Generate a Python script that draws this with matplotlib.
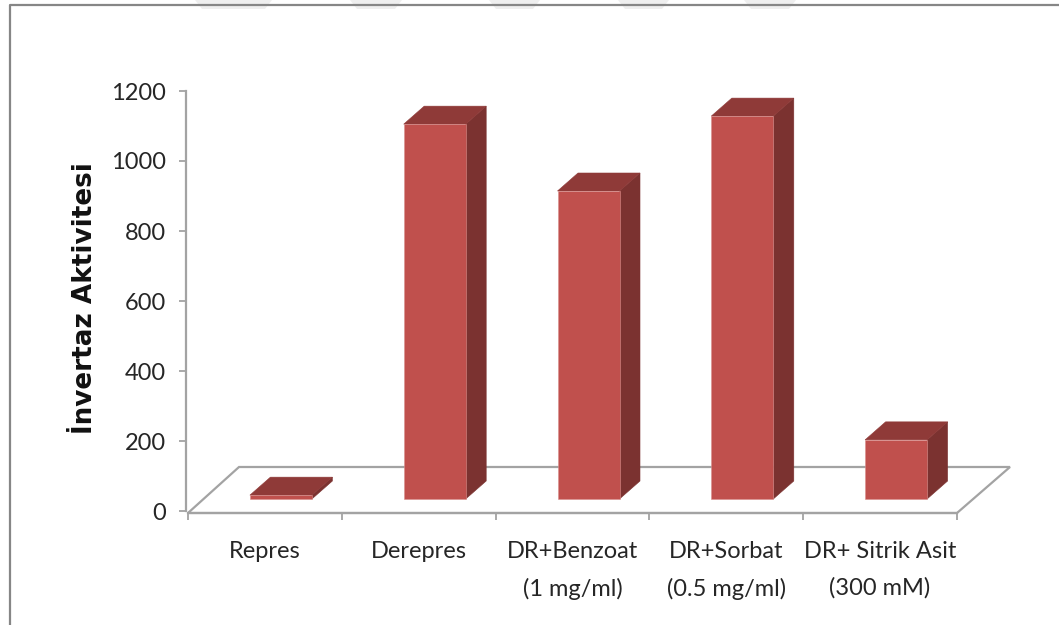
import matplotlib
matplotlib.use("Agg")
import matplotlib.pyplot as plt
from matplotlib.lines import Line2D
from matplotlib.patches import Polygon

plt.rcParams['font.family'] = ['Lato', 'DejaVu Sans']

categories = ["Repres", "Derepres", "DR+Benzoat\n(1 mg/ml)", "DR+Sorbat\n(0.5 mg/ml)", "DR+ Sitrik Asit\n(300 mM)"]
activity = [11, 1071, 880, 1094, 169]
y_ticks = [0, 200, 400, 600, 800, 1000, 1200]

W, H = 1059, 625
GREY = "#a3a3a3"
TEXT = "#262626"

fig = plt.figure(figsize=(W / 100, H / 100), dpi=100)

# pale shapes showing behind the top edge of the frame
for left, right in [(195, 272), (350, 402), (489, 540), (618, 669), (744, 796)]:
    shape = [(left / W, 1), (right / W, 1), ((right - 7) / W, 1 - 9 / H), ((left + 7) / W, 1 - 9 / H)]
    fig.add_artist(Polygon(shape, closed=True, fc="#efefef", ec="none", transform=fig.transFigure))

ax = fig.add_axes([188 / W, 1 - 511 / H, (957 - 188) / W, (511 - 91) / H])
ax.set_xlim(0, 5)
ax.set_ylim(0, 1200)
ax.patch.set_alpha(0)

# one category is 153.8 px wide, 100 units are 35 px tall
px_x = 5 / (957 - 188)
px_y = 1200 / (511 - 91)

# floor of the 3D box
floor = [(0, -2 * px_y), (5, -2 * px_y), (5 + 53 * px_x, 44 * px_y), (51 * px_x, 44 * px_y)]
ax.add_patch(Polygon(floor, closed=True, fill=False, edgecolor=GREY, lw=1.6, clip_on=False, zorder=1))

# bars: front face, side face, top face
base = 12 * px_y
bar_w = 62 * px_x
dx = 20.5 * px_x
dy = 18 * px_y
for i, val in enumerate(activity):
    x0 = i + 0.5 + 16 * px_x - bar_w / 2
    x1 = x0 + bar_w
    top = base + val
    side = [(x1, base), (x1 + dx, base + dy), (x1 + dx, top + dy), (x1, top)]
    roof = [(x0, top), (x1, top), (x1 + dx, top + dy), (x0 + dx, top + dy)]
    front = [(x0, base), (x1, base), (x1, top), (x0, top)]
    ax.add_patch(Polygon(side, closed=True, fc="#7b3230", ec="#7b3230", lw=0.4, clip_on=False, zorder=2))
    ax.add_patch(Polygon(roof, closed=True, fc="#8f3a38", ec="#8f3a38", lw=0.4, clip_on=False, zorder=2))
    ax.add_patch(Polygon(front, closed=True, fc="#c0504d", ec="#d98f8d", lw=0.4, clip_on=False, zorder=3))

ax.spines[['top', 'right']].set_visible(False)
ax.spines['left'].set_position(('outward', 1.2))
ax.spines['bottom'].set_position(('outward', 1.44))
ax.spines['left'].set_color(GREY)
ax.spines['bottom'].set_color(GREY)
ax.spines['left'].set_linewidth(1.6)
ax.spines['bottom'].set_linewidth(1.6)

ax.set_yticks(y_ticks)
ax.tick_params(axis='y', length=5, width=1.3, color=GREY, labelcolor=TEXT, labelsize=17, pad=9.5)
ax.set_xticks(range(6))
ax.set_xticklabels([])
ax.tick_params(axis='x', which='major', length=5, width=1.3, color=GREY)
ax.set_xticks([i + 0.5 for i in range(5)], minor=True)
ax.set_xticklabels(categories, minor=True, fontsize=17, color=TEXT, linespacing=1.85)
ax.tick_params(axis='x', which='minor', length=0, pad=20.5)

fig.text(85 / W, 1 - 298 / H, "İnvertaz Aktivitesi", rotation=90, ha='center', va='center',
         fontsize=18.9, fontweight='bold', color="#111111", family=['DejaVu Sans'])

# outer chart frame, open on the right
frame_x = [9.5 / W, 9.5 / W, 1]
frame_y = [0, 1 - 4.5 / H, 1 - 4.5 / H]
fig.add_artist(Line2D(frame_x, frame_y, color="#868686", lw=1.6))

fig.savefig("out.png", dpi=100)
